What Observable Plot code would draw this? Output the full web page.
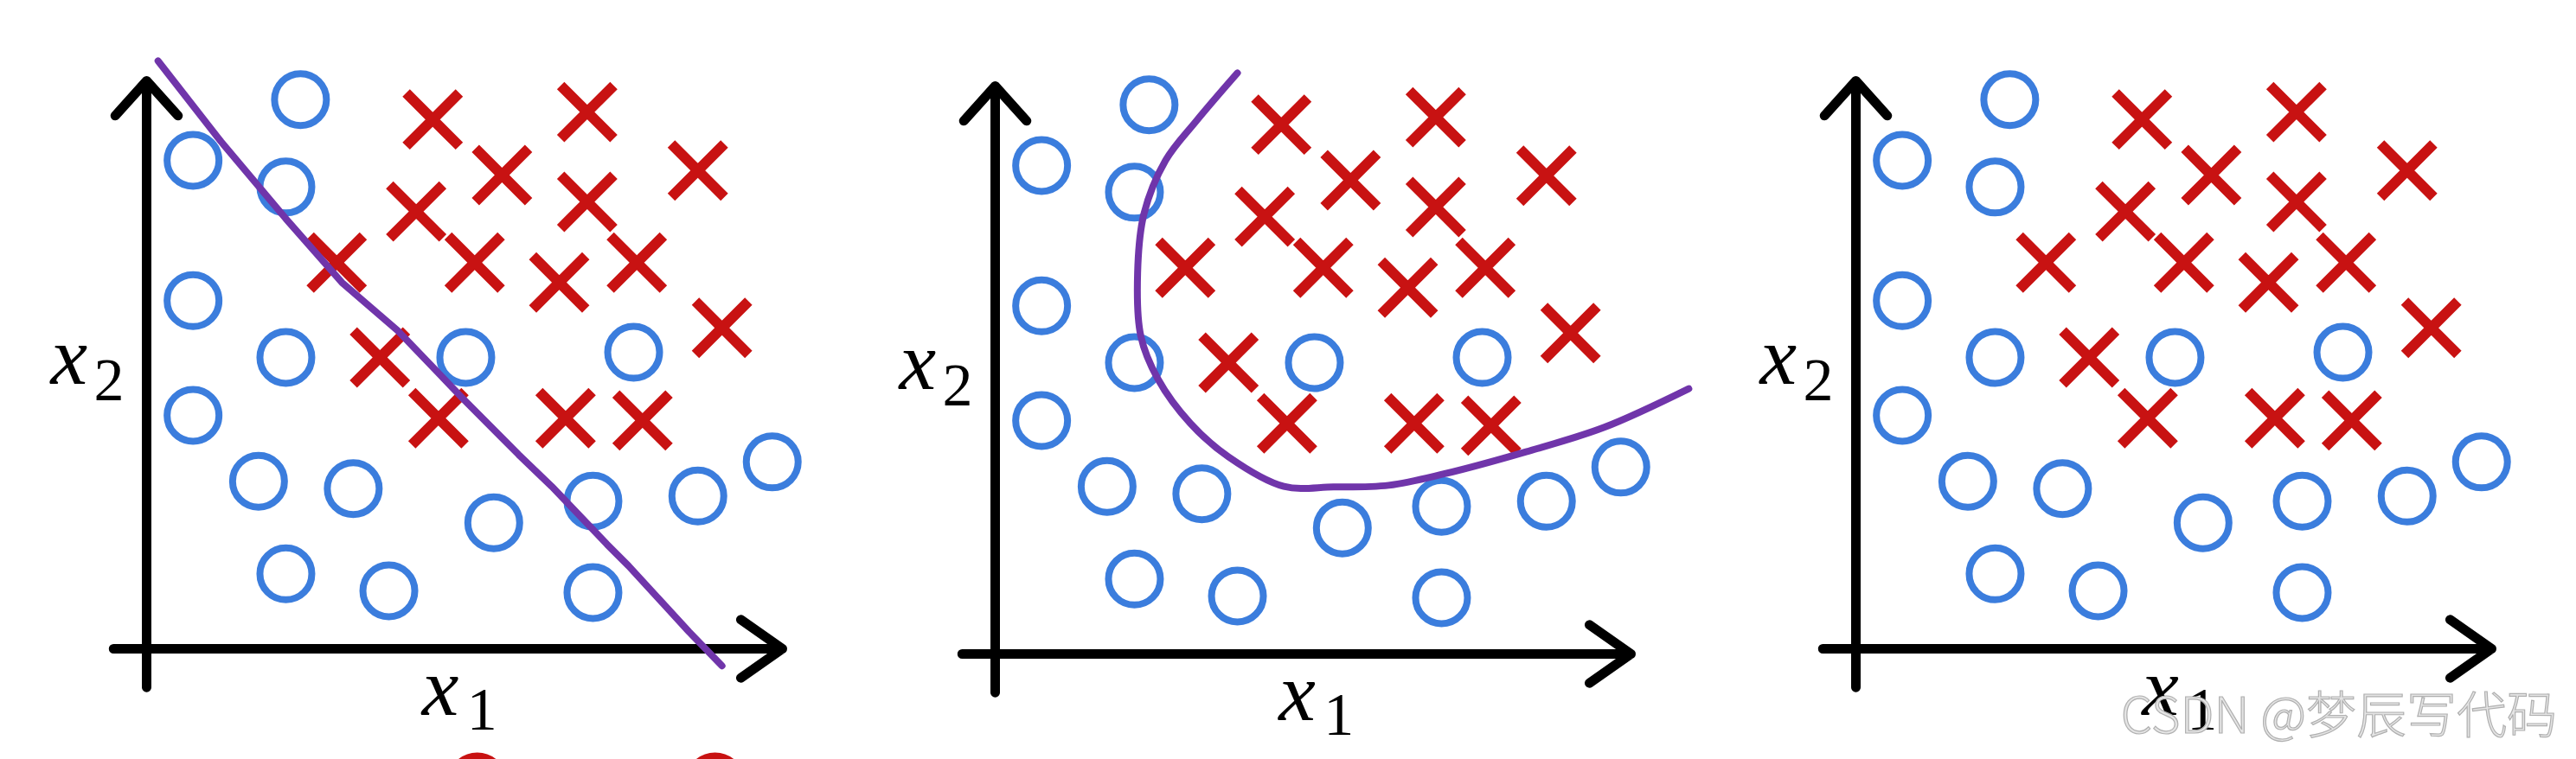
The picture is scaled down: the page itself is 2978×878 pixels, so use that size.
<!DOCTYPE html>
<html>
<head>
<meta charset="utf-8">
<script src="https://cdn.jsdelivr.net/npm/d3@7"></script>
<script src="https://cdn.jsdelivr.net/npm/@observablehq/plot@0.6"></script>
<style>
  html, body { margin: 0; padding: 0; background: #fff; }
  #wrap { position: relative; width: 2978px; height: 878px; overflow: hidden; background: #fff; }
  .panel { position: absolute; top: 0; }
  #wm { position: absolute; left: 0; top: 0; pointer-events: none; }
</style>
</head>
<body>
<div id="wrap"></div>
<script>
// ---- data (x1, x2 in axis units; origin at the axes' corner, arrow tips at 10) ----
const circleX1 = [2.42, 0.73, 2.19, 0.73, 2.19, 5.02, 7.66, 0.73, 1.76, 3.25, 9.84, 8.67, 7.02, 5.46, 2.19, 3.81, 7.02];
const circleX2 = [9.67, 8.60, 8.13, 6.13, 5.13, 5.13, 5.22, 4.11, 2.95, 2.82, 3.29, 2.69, 2.60, 2.22, 1.32, 1.02, 0.99];

const crossX1 = [4.50, 6.93, 5.59, 8.67, 4.24, 6.93, 2.99, 5.16, 6.49, 7.71, 9.05, 3.67, 4.59, 6.59, 7.80];
const crossX2 = [9.32, 9.45, 8.34, 8.42, 7.70, 7.87, 6.80, 6.80, 6.45, 6.80, 5.65, 5.13, 4.06, 4.06, 4.02];

// decision boundary, panel 1 (nearly straight line)
const linearBoundaryX1 = [0.18, 1.17, 2.20, 3.07, 3.95, 4.98, 5.85, 6.37, 7.24, 7.58, 8.53, 9.05];
const linearBoundaryX2 = [10.35, 8.93, 7.56, 6.45, 5.60, 4.40, 3.42, 2.86, 1.84, 1.46, 0.30, -0.30];

// decision boundary, panel 2 (curved)
const curveBoundaryX1 = [3.81, 3.16, 2.68, 2.34, 2.24, 2.29, 2.56, 3.07, 3.67, 4.54, 5.32, 6.19, 7.06, 8.35, 9.58, 10.91];
const curveBoundaryX2 = [10.23, 9.38, 8.69, 7.75, 6.71, 5.60, 4.84, 4.06, 3.47, 2.95, 2.94, 2.97, 3.17, 3.56, 3.99, 4.67];

// red rings peeking in at the bottom of panel 1 (cut off by the picture's edge)
const edgeRingX1 = [5.20, 8.94];
const edgeRingX2 = [-2.35, -2.35];

const axisLetter = "x";
const axisSubscripts = ["1", "2"];
const panelNames = ["linear boundary", "curved boundary", "no boundary"];
const watermarkText = "CSDN @梦辰写代码";

// ---- tables built from the arrays ----
const circles = circleX1.map((v, i) => ({x1: v, x2: circleX2[i]}));
const crosses = crossX1.map((v, i) => ({x1: v, x2: crossX2[i]}));
const linearBoundary = linearBoundaryX1.map((v, i) => ({x1: v, x2: linearBoundaryX2[i]}));
const curveBoundary = curveBoundaryX1.map((v, i) => ({x1: v, x2: curveBoundaryX2[i]}));
const edgeRings = edgeRingX1.map((v, i) => ({x1: v, x2: edgeRingX2[i]}));

const BLUE = "#3b7ddd", RED = "#c81212", PURPLE = "#7035aa";

const layout = [
  {left: 0,    width: 981,  dy: 0, x1Lab: 4.33, boundary: linearBoundary, curve: "linear", rings: true},
  {left: 981,  width: 995,  dy: 6, x1Lab: 4.46, boundary: curveBoundary,  curve: "catmull-rom", rings: false},
  {left: 1976, width: 1002, dy: 0, x1Lab: 4.50, boundary: null,           curve: "linear", rings: false}
];

const wrap = document.getElementById("wrap");

layout.forEach((p, k) => {
  const marks = [];
  // axes as arrows
  marks.push(Plot.arrow([{a: -0.52, b: 0, c: 10, d: 0}], {
    x1: "a", y1: "b", x2: "c", y2: "d",
    stroke: "black", strokeWidth: 11, headAngle: 70, headLength: 8
  }));
  marks.push(Plot.arrow([{a: 0, b: -0.68, c: 0, d: 10}], {
    x1: "a", y1: "b", x2: "c", y2: "d",
    stroke: "black", strokeWidth: 11, headAngle: 84, headLength: 7.4
  }));
  marks.push(Plot.dot(circles, {x: "x1", y: "x2", r: 30, stroke: BLUE, strokeWidth: 8, fill: "none"}));
  marks.push(Plot.dot(crosses, {x: "x1", y: "x2", r: 28, symbol: "times", stroke: RED, strokeWidth: 12}));
  if (p.rings) {
    marks.push(Plot.dot(edgeRings, {x: "x1", y: "x2", r: 30, stroke: RED, strokeWidth: 9, fill: "none"}));
  }
  if (p.boundary) {
    marks.push(Plot.line(p.boundary, {x: "x1", y: "x2", stroke: PURPLE, strokeWidth: 8, curve: p.curve}));
  }
  // axis labels x₁ and x₂
  const base = {fill: "black", fontFamily: "Liberation Serif, DejaVu Serif, serif", textAnchor: "start", lineAnchor: "bottom"};
  marks.push(Plot.text([axisLetter], {...base, x: () => p.x1Lab, y: () => -1.16, text: d => d, fontSize: 96, fontStyle: "italic"}));
  marks.push(Plot.text([axisSubscripts[0]], {...base, x: () => p.x1Lab, y: () => -1.16, text: d => d, fontSize: 70, dx: 52, dy: 17}));
  marks.push(Plot.text([axisLetter], {...base, x: () => -1.51, y: () => 4.67, text: d => d, fontSize: 96, fontStyle: "italic"}));
  marks.push(Plot.text([axisSubscripts[1]], {...base, x: () => -1.51, y: () => 4.67, text: d => d, fontSize: 70, dx: 50, dy: 19}));

  const chart = Plot.plot({
    width: p.width,
    height: 878,
    margin: 0,
    x: {domain: [0, 10], range: [169, 169 + 735], axis: null},
    y: {domain: [0, 10], range: [750 + p.dy, 750 + p.dy - 657], axis: null},
    style: {background: "transparent", overflow: "visible"},
    ariaLabel: panelNames[k],
    marks
  });
  const div = document.createElement("div");
  div.className = "panel";
  div.style.left = p.left + "px";
  div.appendChild(chart);
  wrap.appendChild(div);
});

// watermark
const ns = "http://www.w3.org/2000/svg";
const wm = document.createElementNS(ns, "svg");
wm.setAttribute("id", "wm");
wm.setAttribute("width", 2978);
wm.setAttribute("height", 878);
const t = document.createElementNS(ns, "text");
t.setAttribute("x", 2956);
t.setAttribute("y", 848);
t.setAttribute("text-anchor", "end");
t.setAttribute("font-family", "Noto Sans CJK SC, Noto Sans, sans-serif");
t.setAttribute("font-weight", "300");
t.setAttribute("font-size", "58");
t.setAttribute("fill", "#e4e4e4");
t.setAttribute("stroke", "#b0b0b0");
t.setAttribute("stroke-width", "1.2");
t.textContent = watermarkText;
wm.appendChild(t);
wrap.appendChild(wm);
</script>
</body>
</html>
